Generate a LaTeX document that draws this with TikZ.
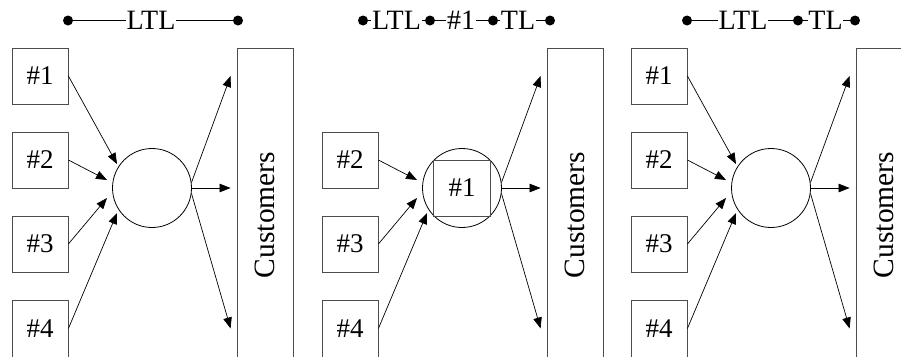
\documentclass[tikz,border=0pt]{standalone}
\usepackage{fontspec}
\setmainfont{Liberation Serif}
\usepackage{graphicx}
\usetikzlibrary{arrows.meta,calc}
\begin{document}
\begin{tikzpicture}[x=1pt,y=1pt,
  lbl/.style={font=\fontsize{27}{30}\selectfont},
  src/.style={draw=black!70, line width=0.8pt, minimum width=56pt, minimum height=56pt, inner sep=0pt, lbl},
  hub/.style={circle, draw=black, line width=0.8pt, minimum size=79pt, inner sep=0pt},
  cust/.style={draw=black!70, line width=0.8pt, minimum width=56pt, minimum height=334pt, inner sep=0pt, font=\fontsize{29.5}{32}\selectfont},
  arr/.style={-{Triangle[length=11pt,width=8.5pt]}, line width=0.7pt, black},
  dot/.style={circle, fill=black, minimum size=10pt, inner sep=0pt},
  tl/.style={font=\fontsize{28}{30}\selectfont, inner sep=0.5pt},
  tline/.style={line width=0.8pt}
]
\useasboundingbox (0,0) rectangle (901,-356);
\coordinate (ytop) at (0,-76);

% ---------- Panel 1 ----------
\node[src] (a1) at (40,-76) {\#1};
\node[src] (a2) at (40,-160) {\#2};
\node[src] (a3) at (40,-244) {\#3};
\node[src, minimum height=57pt] (a4) at (40,-328.5) {\#4};
\node[hub] (ha) at (152,-188) {};
\node[cust] (ca) at (265,-215) {\rotatebox{90}{Customers}};
\draw[arr] (a1.east) -- ($(ha.center)+(-35,24)$);
\draw[arr] (a2.east) -- ($(ha.center)+(-45,8)$);
\draw[arr] (a3.east) -- ($(ha.center)+(-45,-10)$);
\draw[arr] (a4.east) -- ($(ha.center)+(-35,-25)$);
\draw[arr] (ha.8) -- ($(ytop -| ca.west)+(-6,0)$);
\draw[arr] (ha.east) -- ($(ha.east -| ca.west)+(-6,0)$);
\draw[arr] (ha.-8) -- ($(a4.east -| ca.west)+(-6,0)$);
\node[dot] (d11) at (68,-20.5) {};
\node[tl] (t11) at (151,-20.5) {LTL};
\node[dot] (d12) at (238,-20.5) {};
\draw[tline] (d11) -- (t11) -- (d12);

% ---------- Panel 2 ----------
\node[src] (b2) at (350,-160) {\#2};
\node[src] (b3) at (350,-244) {\#3};
\node[src, minimum height=57pt] (b4) at (350,-328.5) {\#4};
\node[hub] (hb) at (462,-188) {};
\node[src, minimum width=57pt] (k1) at (462,-188) {\#1};
\node[cust] (cb) at (575,-215) {\rotatebox{90}{Customers}};
\draw[arr] (b2.east) -- ($(hb.center)+(-45,8)$);
\draw[arr] (b3.east) -- ($(hb.center)+(-45,-10)$);
\draw[arr] (b4.east) -- ($(hb.center)+(-35,-25)$);
\draw[arr] (hb.8) -- ($(ytop -| cb.west)+(-6,0)$);
\draw[arr] (hb.east) -- ($(hb.east -| cb.west)+(-6,0)$);
\draw[arr] (hb.-8) -- ($(b4.east -| cb.west)+(-6,0)$);
\node[dot] (d21) at (363,-20.5) {};
\node[tl] (t21) at (396.5,-20.5) {LTL};
\node[dot] (d22) at (430,-20.5) {};
\node[tl] (t22) at (461,-20.5) {\#1};
\node[dot] (d23) at (493,-20.5) {};
\node[tl] (t23) at (518,-20.5) {TL};
\node[dot] (d24) at (550,-20.5) {};
\draw[tline] (d21) -- (t21) -- (d22) -- (t22) -- (d23) -- (t23) -- (d24);

% ---------- Panel 3 ----------
\node[src] (c1) at (659,-76) {\#1};
\node[src] (c2) at (659,-160) {\#2};
\node[src] (c3) at (659,-244) {\#3};
\node[src, minimum height=57pt] (c4) at (659,-328.5) {\#4};
\node[hub] (hc) at (771,-188) {};
\node[cust] (cc) at (884,-215) {\rotatebox{90}{Customers}};
\draw[arr] (c1.east) -- ($(hc.center)+(-35,24)$);
\draw[arr] (c2.east) -- ($(hc.center)+(-45,8)$);
\draw[arr] (c3.east) -- ($(hc.center)+(-45,-10)$);
\draw[arr] (c4.east) -- ($(hc.center)+(-35,-25)$);
\draw[arr] (hc.8) -- ($(ytop -| cc.west)+(-6,0)$);
\draw[arr] (hc.east) -- ($(hc.east -| cc.west)+(-6,0)$);
\draw[arr] (hc.-8) -- ($(c4.east -| cc.west)+(-6,0)$);
\node[dot] (d31) at (687,-20.5) {};
\node[tl] (t31) at (743,-20.5) {LTL};
\node[dot] (d32) at (798,-20.5) {};
\node[tl] (t32) at (825.5,-20.5) {TL};
\node[dot] (d33) at (855,-20.5) {};
\draw[tline] (d31) -- (t31) -- (d32) -- (t32) -- (d33);
\end{tikzpicture}
\end{document}
